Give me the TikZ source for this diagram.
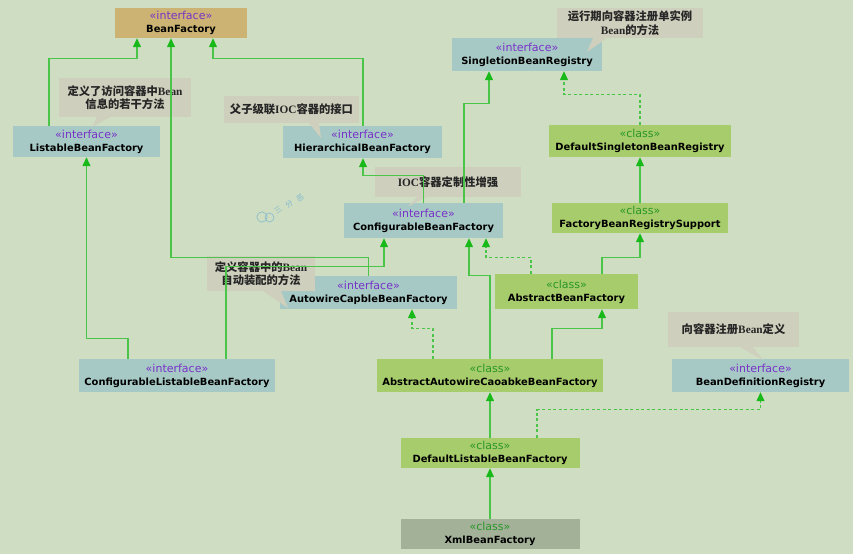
\documentclass[tikz,border=0pt]{standalone}
\usepackage{fontspec}
\setmainfont{DejaVu Sans}
\newfontfamily\cjk{Noto Sans CJK SC}
\newfontfamily\serifl{Liberation Serif}
\usetikzlibrary{arrows.meta}

\definecolor{bgcol}{RGB}{207,222,195}
\definecolor{ifcol}{RGB}{166,201,197}
\definecolor{clcol}{RGB}{167,204,107}
\definecolor{bfcol}{RGB}{204,179,115}
\definecolor{xmlcol}{RGB}{163,177,153}
\definecolor{notecol}{RGB}{206,207,189}
\definecolor{linecol}{RGB}{74,197,74}
\definecolor{headcol}{RGB}{25,185,25}
\definecolor{ifpurple}{RGB}{120,50,200}
\definecolor{clgreen}{RGB}{40,150,40}
\definecolor{wmcol}{RGB}{130,185,205}

\newcommand\ifc{{\mdseries\fontsize{11}{13}\selectfont\color{ifpurple}«interface»}}
\newcommand\cls{{\mdseries\fontsize{11}{13}\selectfont\color{clgreen}«class»}}
\newcommand\lat[1]{{\serifl\bfseries #1}}

\tikzset{
  umlbox/.style={rectangle, inner sep=0pt, align=center, text=black,
    font=\bfseries\fontsize{9.9}{13}\selectfont},
  ifbox/.style={umlbox, fill=ifcol},
  clbox/.style={umlbox, fill=clcol},
  notebox/.style={rectangle, inner sep=0pt, fill=notecol, align=center,
    text=black!85, font=\cjk\bfseries\fontsize{11.3}{13.5}\selectfont},
  wmchar/.style={rotate=35, text=wmcol, inner sep=0pt,
    font=\cjk\fontsize{7.5}{7.5}\selectfont},
  ext/.style={draw=linecol, line width=1.3pt,
    -{Triangle[width=8pt,length=9pt,fill=headcol,color=headcol]}},
  impl/.style={ext, dash pattern=on 3pt off 2.5pt},
}

\begin{document}
\begin{tikzpicture}[x=1pt, y=-1pt]
\useasboundingbox (0,0) rectangle (853,554);
\fill[bgcol] (0,0) rectangle (853,554);

% watermark
\begin{scope}[wmcol, line width=0.6pt]
  \draw (262,217) circle (5.2);
  \draw (269.5,217.5) circle (4.5);
\end{scope}
\node[wmchar] (wm1) at (278,210) {三};
\node[wmchar] (wm2) at (289,204) {分};
\node[wmchar] (wm3) at (300,198) {恶};

% types
\node[umlbox, fill=bfcol, minimum width=132pt, minimum height=30pt] (bf) at (181,23) {\ifc\\BeanFactory};
\node[ifbox, minimum width=147pt, minimum height=31pt] (lbf) at (86.5,141.5) {\ifc\\ListableBeanFactory};
\node[ifbox, minimum width=159pt, minimum height=32pt] (hbf) at (362.5,142) {\ifc\\HierarchicalBeanFactory};
\node[ifbox, minimum width=150pt, minimum height=33pt] (sbr) at (527,54.5) {\ifc\\SingletionBeanRegistry};
\node[clbox, minimum width=182pt, minimum height=32pt] (dsbr) at (640,141) {\cls\\DefaultSingletonBeanRegistry};
\node[ifbox, minimum width=159pt, minimum height=35pt] (cbf) at (423.5,220.5) {\ifc\\ConfigurableBeanFactory};
\node[clbox, minimum width=176pt, minimum height=30pt] (fbrs) at (640,218) {\cls\\FactoryBeanRegistrySupport};
\node[clbox, minimum width=143pt, minimum height=35pt] (abf) at (566.5,291.5) {\cls\\AbstractBeanFactory};
\node[ifbox, minimum width=177pt, minimum height=33pt] (acbf) at (368.5,292.5) {\ifc\\AutowireCapbleBeanFactory};
\node[ifbox, minimum width=196pt, minimum height=33pt] (clbf) at (177,375.5) {\ifc\\ConfigurableListableBeanFactory};
\node[clbox, minimum width=226pt, minimum height=33pt] (aacbf) at (490,375.5) {\cls\\AbstractAutowireCaoabkeBeanFactory};
\node[ifbox, minimum width=177pt, minimum height=33pt] (bdr) at (760.5,375.5) {\ifc\\BeanDefinitionRegistry};
\node[clbox, minimum width=179pt, minimum height=30pt] (dlbf) at (490,453) {\cls\\DefaultListableBeanFactory};
\node[umlbox, fill=xmlcol, minimum width=179pt, minimum height=30pt] (xbf) at (490,534) {\cls\\XmlBeanFactory};

% notes with their callout tails
\fill[notecol] (97,117) -- (110,117) -- (92,127) -- cycle;
\fill[notecol] (309,123) -- (319,123) -- (321,138) -- cycle;
\fill[notecol] (417,197) -- (426,197) -- (407,207) -- cycle;
\fill[notecol] (263,291) -- (281,291) -- (288,308) -- cycle;
\fill[notecol] (593,38) -- (607,38) -- (587,52) -- cycle;
\fill[notecol] (740,347) -- (753,347) -- (763,360) -- cycle;
\node[notebox, minimum width=132pt, minimum height=39pt] (n1) at (125,97.5)
  {定义了访问容器中\lat{Bean}\\信息的若干方法};
\node[notebox, minimum width=135pt, minimum height=27pt] (n2) at (291.5,109.5)
  {父子级联\lat{IOC}容器的接口};
\node[notebox, minimum width=146pt, minimum height=30pt] (n3) at (448,182)
  {\lat{IOC}容器定制性增强};
\node[notebox, minimum width=108pt, minimum height=35pt] (n4) at (261,273.5)
  {定义容器中的\lat{Bean}\\自动装配的方法};
\node[notebox, minimum width=146pt, minimum height=30pt] (n5) at (630,23)
  {运行期向容器注册单实例\\\lat{Bean}的方法};
\node[notebox, minimum width=131pt, minimum height=35pt] (n6) at (733.5,329.5)
  {向容器注册\lat{Bean}定义};

% connectors
\draw[ext] ([xshift=-37.5pt]lbf.north) -- ++(0,-67) -| ([xshift=-44pt]bf.south);
\draw[ext] ([xshift=0.5pt]hbf.north) -- ++(0,-67) -| ([xshift=32pt]bf.south);
\draw[ext] (acbf.north) -- ++(0,-18) -| ([xshift=-10pt]bf.south);
\draw[ext] ([xshift=-49pt]clbf.north) -- ++(0,-20) -| (lbf.south);
\draw[ext] ([xshift=49pt]clbf.north) -- ++(0,-92) -| ([xshift=-39.5pt]cbf.south);
\draw[ext] (cbf.north) -- ++(0,-27) -| ([xshift=0.5pt]hbf.south);
\draw[ext] ([xshift=40.5pt]cbf.north) -- ++(0,-99) -| ([xshift=-38pt]sbr.south);
\draw[impl] (dsbr.north) -- ++(0,-30) -| ([xshift=37pt]sbr.south);
\draw[ext] (fbrs.north) -- (dsbr.south);
\draw[ext] ([xshift=35.5pt]abf.north) -- ++(0,-16) -| (fbrs.south);
\draw[impl] ([xshift=-35.5pt]abf.north) -- ++(0,-16) -| ([xshift=62.5pt]cbf.south);
\draw[ext] (aacbf.north) -- ++(0,-83) -| ([xshift=45.5pt]cbf.south);
\draw[ext] ([xshift=62pt]aacbf.north) -- ++(0,-30) -| ([xshift=35.5pt]abf.south);
\draw[impl] ([xshift=-57pt]aacbf.north) -- ++(0,-30) -| ([xshift=43.5pt]acbf.south);
\draw[ext] (dlbf.north) -- (aacbf.south);
\draw[impl] ([xshift=47pt]dlbf.north) -- ++(0,-28) -| (bdr.south);
\draw[ext] (xbf.north) -- (dlbf.south);
\end{tikzpicture}
\end{document}
